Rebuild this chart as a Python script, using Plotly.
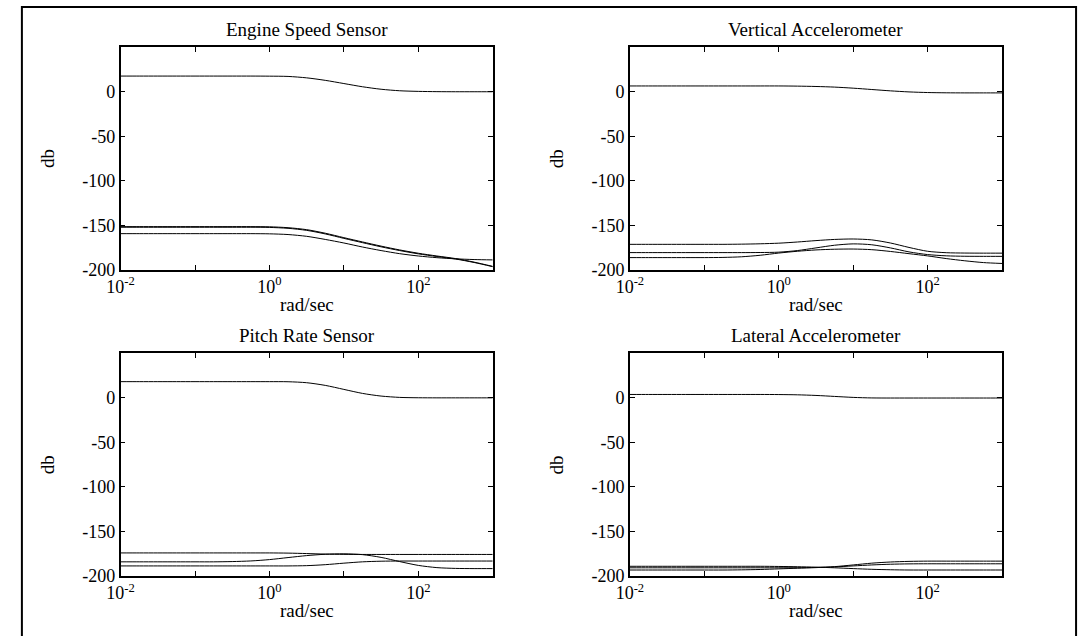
import plotly.graph_objects as go

# Frequencies (rad/sec), quarter-decade points from 1e-2 to 1e3
freq = [0.01, 0.01778, 0.03162, 0.05623, 0.1, 0.1778, 0.3162, 0.5623, 1.0, 1.778,
        3.162, 5.623, 10.0, 17.78, 31.62, 56.23, 100.0, 177.8, 316.2, 562.3, 1000.0]

# Engine Speed Sensor (dB)
esp_1 = [17.6, 17.6, 17.6, 17.6, 17.6, 17.6, 17.6, 17.6, 17.5, 17.2, 15.6, 12.8, 9.2, 5.6, 2.8, 1.1, 0.4, 0.1, 0.0, 0.0, 0.0]
esp_2 = [-151.6, -151.6, -151.6, -151.6, -151.6, -151.6, -151.6, -151.6, -151.8, -152.8, -155.0, -159.0, -164.0, -168.8, -173.5, -177.8, -181.5, -184.6, -187.5, -191.5, -196.3]
esp_3 = [-152.3, -152.3, -152.3, -152.3, -152.3, -152.3, -152.3, -152.3, -152.5, -153.5, -155.8, -159.8, -164.8, -169.6, -174.3, -178.5, -182.2, -185.2, -188.0, -191.9, -196.6]
esp_4 = [-159.5, -159.5, -159.5, -159.5, -159.5, -159.5, -159.5, -159.5, -159.7, -160.5, -162.5, -166.0, -170.0, -174.5, -178.5, -182.0, -184.6, -186.5, -187.8, -188.6, -189.0]

# Vertical Accelerometer (dB)
va_1 = [6.5, 6.5, 6.5, 6.5, 6.5, 6.5, 6.5, 6.5, 6.5, 6.3, 5.9, 5.2, 4.0, 2.5, 1.0, -0.2, -0.9, -1.2, -1.3, -1.3, -1.3]
va_2 = [-171.5, -171.5, -171.5, -171.5, -171.5, -171.5, -171.3, -170.9, -170.2, -168.9, -167.3, -166.0, -165.5, -166.5, -170.0, -175.0, -179.3, -180.9, -181.3, -181.4, -181.4]
va_3 = [-180.8, -180.8, -180.8, -180.8, -180.8, -180.8, -180.8, -180.7, -180.3, -178.5, -175.5, -172.5, -171.0, -172.0, -175.5, -180.0, -183.0, -184.4, -184.9, -185.0, -185.0]
va_4 = [-186.4, -186.4, -186.4, -186.4, -186.4, -186.2, -185.5, -183.8, -181.3, -179.3, -177.8, -177.0, -176.8, -177.5, -179.5, -182.0, -184.5, -187.5, -190.0, -192.0, -193.0]

# Pitch Rate Sensor (dB)
prs_1 = [18.2, 18.2, 18.2, 18.2, 18.2, 18.2, 18.2, 18.2, 18.2, 18.1, 17.0, 14.0, 9.5, 5.0, 2.0, 0.5, 0.1, 0.0, 0.0, 0.0, 0.0]
prs_2 = [-174.3, -174.3, -174.3, -174.3, -174.3, -174.3, -174.3, -174.3, -174.3, -174.5, -175.0, -175.6, -175.9, -176.0, -176.0, -176.0, -176.0, -176.0, -176.0, -176.0, -176.0]
prs_3 = [-184.3, -184.3, -184.3, -184.3, -184.3, -184.3, -184.0, -183.3, -181.8, -179.5, -177.3, -175.8, -175.3, -176.2, -179.3, -184.0, -188.3, -190.8, -191.7, -191.9, -191.9]
prs_4 = [-188.9, -188.9, -188.9, -188.9, -188.9, -188.9, -188.9, -188.9, -188.9, -188.9, -188.6, -187.5, -185.8, -184.3, -183.6, -183.4, -183.4, -183.4, -183.4, -183.4, -183.4]

# Lateral Accelerometer (dB)
la_1 = [3.8, 3.8, 3.8, 3.8, 3.8, 3.8, 3.8, 3.8, 3.7, 3.4, 2.7, 1.6, 0.5, -0.1, -0.2, -0.2, -0.2, -0.2, -0.2, -0.2, -0.2]
la_2 = [-189.3, -189.3, -189.3, -189.3, -189.3, -189.3, -189.3, -189.3, -189.5, -189.8, -190.3, -191.0, -191.9, -192.7, -193.2, -193.5, -193.5, -193.5, -193.5, -193.5, -193.5]
la_3 = [-191.0, -191.0, -191.0, -191.0, -191.0, -191.0, -191.0, -191.0, -191.0, -190.9, -190.6, -190.0, -188.9, -187.8, -187.0, -186.6, -186.5, -186.5, -186.5, -186.5, -186.5]
la_4 = [-193.5, -193.5, -193.5, -193.5, -193.5, -193.5, -193.3, -192.9, -192.2, -191.5, -190.8, -189.7, -187.8, -185.8, -184.5, -183.8, -183.5, -183.5, -183.5, -183.5, -183.5]

titles = ["Engine Speed Sensor", "Vertical Accelerometer", "Pitch Rate Sensor", "Lateral Accelerometer"]
panels = [[esp_1, esp_2, esp_3, esp_4], [va_1, va_2, va_3, va_4],
          [prs_1, prs_2, prs_3, prs_4], [la_1, la_2, la_3, la_4]]

x_ticks = [0.01, 0.1, 1, 10, 100, 1000]
x_ticktext = ["10<sup>-2</sup>", "", "10<sup>0</sup>", "", "10<sup>2</sup>", ""]
y_ticks = [-200, -150, -100, -50, 0, 50]
y_ticktext = ["-200", "-150", "-100", "-50", "0", ""]

W, H = 1081, 636
FONT = "Liberation Serif, Times New Roman, serif"

# panel pixel boxes: (left, right, top, bottom)
boxes = [(108, 485, 48, 274), (624, 1001, 48, 274), (108, 485, 359, 585), (624, 1001, 359, 585)]

fig = go.Figure()
annotations = []
for i, (series, box) in enumerate(zip(panels, boxes)):
    sfx = "" if i == 0 else str(i + 1)
    for s in series:
        fig.add_trace(go.Scatter(x=freq, y=s, mode="lines", xaxis="x" + sfx, yaxis="y" + sfx,
                                 line=dict(color="black", width=1, shape="spline", smoothing=0.8),
                                 showlegend=False, hoverinfo="skip"))
    l, r, t, b = box
    xd = [l / W, r / W]
    yd = [1 - b / H, 1 - t / H]
    axcommon = dict(showgrid=False, zeroline=False, showline=True, linecolor="black", linewidth=1.5,
                    mirror="allticks", ticks="inside", ticklen=5, tickcolor="black", tickwidth=1,
                    tickfont=dict(family=FONT, size=18, color="black"))
    fig.update_layout(**{
        "xaxis" + sfx: dict(domain=xd, type="log", range=[-2, 3], tickvals=x_ticks, ticktext=x_ticktext,
                           anchor="y" + sfx, **axcommon),
        "yaxis" + sfx: dict(domain=yd, range=[-200, 50], tickvals=y_ticks, ticktext=y_ticktext,
                           anchor="x" + sfx, **axcommon),
    })
    cx = (l + r) / 2
    annotations.append(dict(text=titles[i], x=cx / W, y=1 - (t - 18) / H, xref="paper", yref="paper",
                            xanchor="center", yanchor="middle", showarrow=False,
                            font=dict(family=FONT, size=19, color="black")))
    annotations.append(dict(text="rad/sec", x=cx / W, y=1 - (b + 35) / H, xref="paper", yref="paper",
                            xanchor="center", yanchor="middle", showarrow=False,
                            font=dict(family=FONT, size=19, color="black")))
    annotations.append(dict(text="db", x=(l - 74) / W, y=1 - (t + b) / 2 / H, xref="paper", yref="paper",
                            xanchor="center", yanchor="middle", showarrow=False, textangle=-90,
                            font=dict(family=FONT, size=19, color="black")))

fig.update_layout(
    width=W, height=H, margin=dict(l=0, r=0, t=0, b=0),
    paper_bgcolor="white", plot_bgcolor="white",
    annotations=annotations,
    shapes=[dict(type="rect", xref="paper", yref="paper", x0=8 / W, x1=1076 / W, y0=-0.2, y1=1 - 7 / H,
                 line=dict(color="black", width=2), fillcolor="rgba(0,0,0,0)")],
)

fig.write_html("out.html")
